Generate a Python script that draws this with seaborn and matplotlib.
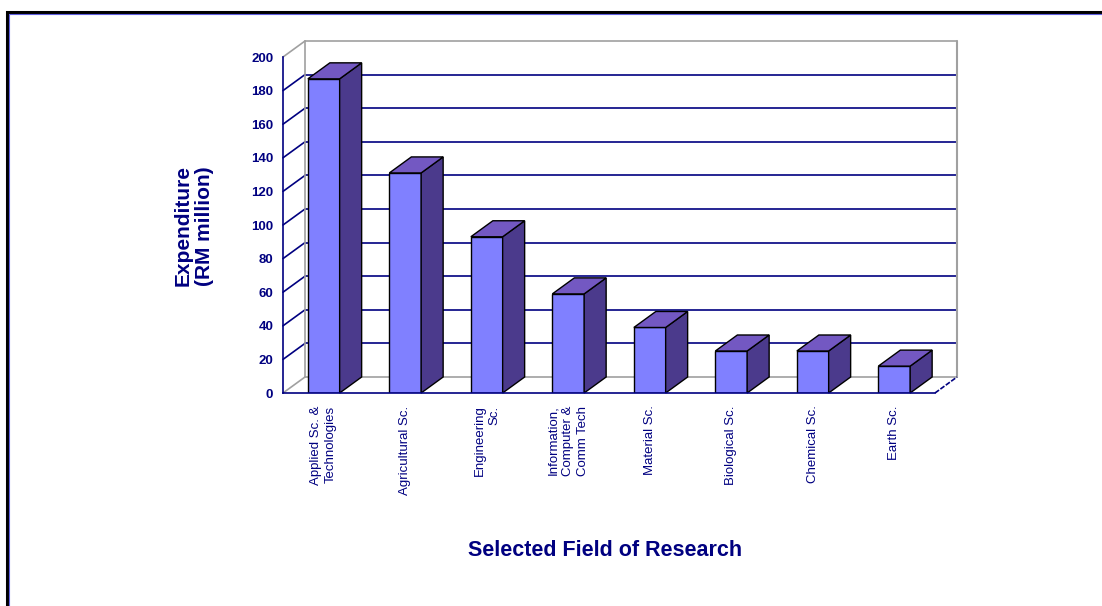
# Research expenditure by field (3-D style bar chart)
import numpy as np
import pandas as pd
import matplotlib
matplotlib.use("Agg")
import matplotlib.pyplot as plt
from matplotlib.patches import Polygon, Rectangle
import seaborn as sns

# data
fields = ["Applied Sc. &\nTechnologies", "Agricultural Sc.", "Engineering\nSc.",
          "Information,\nComputer &\nComm Tech", "Material Sc.", "Biological Sc.",
          "Chemical Sc.", "Earth Sc."]
expenditure = [187, 131, 93, 59, 39, 25, 25, 16]
y_ticks = [0, 20, 40, 60, 80, 100, 120, 140, 160, 180, 200]

df = pd.DataFrame({"field": fields, "expenditure": expenditure})

navy = "#000080"
front_col = "#8080FF"
side_col = "#4B3A8C"
top_col = "#7358C2"
wall_grey = "#A0A0A0"

sns.set_style("white")
plt.rcParams["font.family"] = ["Liberation Sans", "DejaVu Sans"]

W, H = 1102, 606
fig = plt.figure(figsize=(W / 100, H / 100), dpi=100)
ax = fig.add_axes([283 / W, (H - 393) / H, 652 / W, 336 / H])

sns.barplot(data=df, x="field", y="expenditure", color=front_col, saturation=1,
            edgecolor="black", linewidth=1, width=0.39, ax=ax, zorder=3)

ax.set_xlim(-0.5, len(fields) - 0.5)
ax.set_ylim(0, 200)

# depth of the fake 3-D, in data units (about 22 px right, 16 px up)
DX = 22 / (652 / len(fields))
DY = 16 / (336 / 200)

# back wall gridlines
x0, x1 = -0.5, len(fields) - 0.5
for t in y_ticks:
    c = navy if 0 < t < 200 else wall_grey
    ax.plot([x0 + DX, x1 + DX], [t + DY, t + DY], color=c, lw=1.2, zorder=1, clip_on=False)
    # left wall diagonals
    ax.plot([x0, x0 + DX], [t, t + DY], color=c, lw=1.2, zorder=1, clip_on=False)
ax.plot([x0 + DX, x0 + DX], [DY, 200 + DY], color=wall_grey, lw=1.2, zorder=1, clip_on=False)
ax.plot([x1 + DX, x1 + DX], [DY, 200 + DY], color=wall_grey, lw=1.5, zorder=1, clip_on=False)
ax.plot([x1, x1 + DX], [0, DY], color=navy, lw=1.2, ls=(0, (3, 1)), zorder=1, clip_on=False)

# side and top faces for every bar
for p in ax.patches:
    bx0 = p.get_x()
    bx1 = bx0 + p.get_width()
    h = p.get_height()
    side = Polygon([(bx1, 0), (bx1 + DX, DY), (bx1 + DX, h + DY), (bx1, h)],
                   closed=True, facecolor=side_col, edgecolor="black", lw=1, zorder=4, clip_on=False)
    top = Polygon([(bx0, h), (bx0 + DX, h + DY), (bx1 + DX, h + DY), (bx1, h)],
                  closed=True, facecolor=top_col, edgecolor="black", lw=1, zorder=4, clip_on=False)
    ax.add_patch(side)
    ax.add_patch(top)

# axes styling
for s in ["top", "right"]:
    ax.spines[s].set_visible(False)
for s in ["left", "bottom"]:
    ax.spines[s].set_color(navy)
    ax.spines[s].set_linewidth(1.2)
    ax.spines[s].set_zorder(5)

ax.set_yticks(y_ticks)
ax.tick_params(axis="y", colors=navy, labelsize=9.5, length=5, width=1.2, direction="out", pad=2)
for lab in ax.get_yticklabels():
    lab.set_fontweight("bold")
ax.set_xticks(np.arange(len(fields)))
ax.set_xticklabels(fields, rotation=90, ha="center", va="top", multialignment="right",
                   fontsize=9.5, color=navy, linespacing=1.3)
ax.tick_params(axis="x", length=0, pad=9)
ax.set_xticks(np.arange(len(fields) + 1) - 0.5, minor=True)
ax.tick_params(axis="x", which="minor", length=5, width=1.2, color=navy, direction="out")
ax.set_xlabel("")
ax.set_ylabel("")

fig.text(194 / W, 1 - 226 / H, "Expenditure\n(RM million)", rotation=90, ha="center", va="center",
         multialignment="center", fontsize=15, fontweight="bold", color=navy, linespacing=1.2)
fig.text(605 / W, 1 - 551 / H, "Selected Field of Research", ha="center", va="center",
         fontsize=15.5, fontweight="bold", color=navy)

# outer frame
fig.patches.append(Rectangle((6.5 / W, -0.1), 1.2, 1.1 - 11.5 / H, transform=fig.transFigure,
                             fill=False, edgecolor="black", lw=2.2))
fig.patches.append(Rectangle((9 / W, -0.1), 1.2, 1.1 - 14 / H, transform=fig.transFigure,
                             fill=False, edgecolor="#6060E0", lw=0.8))

fig.savefig("out.png", dpi=100)
